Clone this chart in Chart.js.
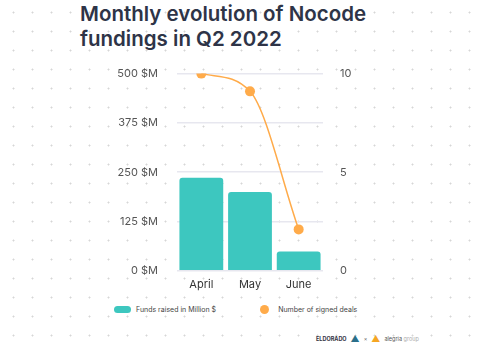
<!DOCTYPE html>
<html>
<head>
<meta charset="utf-8">
<script src="https://cdn.jsdelivr.net/npm/chart.js@4"></script>
<style>
  body { margin:0; width:485px; height:350px; overflow:hidden; background:#fff;
    background-image: radial-gradient(circle, #d6d6d6 0.8px, transparent 1.2px);
    background-size: 19px 19px; background-position: 4px 3px;
    font-family: Inter, "Noto Sans", sans-serif; position:relative; }
  #title { position:absolute; left:80px; top:2px; font-size:20.5px; font-weight:600; line-height:24.5px;
    color:#2e3447; }
  #wrap { position:absolute; left:0; top:48px; width:485px; height:250px; }
  #legend { position:absolute; top:305px; left:114px; font-size:7px; color:#444; display:flex; }
  .item { display:flex; align-items:center; }
  .logo { position:absolute; left:316px; top:333px; font-size:5.5px; color:#555; display:flex; align-items:center; gap:4px; }
</style>
</head>
<body>
<div id="title">Monthly evolution of Nocode<br>fundings in Q2 2022</div>
<div id="wrap"><canvas id="myChart" width="485" height="250"></canvas></div>
<div id="legend"></div>
<div class="logo"><b style="color:#334;">ELDORADO</b><span style="color:#2a6f8a;font-size:9px;">▲</span><span>×</span><span style="color:#f5a623;font-size:9px;">▲</span><span>alegria <span style="color:#aaa">group</span></span></div>
<script>
const labels = ['April', 'May', 'June'];
const funds = [236, 200, 49];
const deals = [10, 9.1, 2.1];
const fundTicks = ['0 $M', '125 $M', '250 $M', '375 $M', '500 $M'];

let ctx = document.getElementById("myChart");
const chart = new Chart(ctx, {
  data: {
    labels: labels,
    datasets: [
      {
        type: 'line',
        label: 'Number of signed deals',
        data: deals,
        yAxisID: 'y1',
        borderColor: '#ffab4a',
        backgroundColor: '#ffab4a',
        borderWidth: 1.5,
        pointRadius: 5,
        pointBorderWidth: 0,
        cubicInterpolationMode: 'monotone',
        order: 0
      },
      {
        type: 'bar',
        label: 'Funds raised in Million $',
        data: funds,
        yAxisID: 'y',
        backgroundColor: '#3dc7bf',
        borderRadius: {topLeft: 3, topRight: 3},
        borderSkipped: 'bottom',
        categoryPercentage: 0.9,
        barPercentage: 1,
        order: 1
      }
    ]
  },
  options: {
    responsive: false,
    animation: false,
    layout: { padding: { top: 2, bottom: 0 } },
    plugins: { legend: { display: false }, tooltip: { enabled: false } },
    scales: {
      x: {
        grid: { display: false, drawTicks: false },
        border: { display: false },
        ticks: { color: '#333', font: { size: 11, family: 'Inter' }, padding: 7 }
      },
      y: {
        position: 'left',
        min: 0, max: 500,
        afterFit: s => { s.width = 177; },
        grid: { color: '#e7e7ef', lineWidth: 1.5, drawTicks: false },
        border: { display: false },
        ticks: { stepSize: 125, padding: 19, color: '#555', font: { size: 11, family: 'Inter' },
          callback: (v, i) => fundTicks[i] }
      },
      y1: {
        position: 'right',
        min: 0, max: 10,
        afterFit: s => { s.width = 162; },
        grid: { display: false, drawTicks: false },
        border: { display: false },
        ticks: { stepSize: 5, padding: 17, color: '#555', font: { size: 11, family: 'Inter' } }
      }
    }
  }
});

// html legend built from the datasets
const leg = document.getElementById('legend');
[chart.data.datasets[1], chart.data.datasets[0]].forEach((d, i) => {
  const it = document.createElement('div');
  it.className = 'item';
  it.style.marginRight = i === 0 ? '44px' : '0';
  const sw = document.createElement('span');
  sw.style.cssText = i === 0
    ? 'width:17px;height:7px;border-radius:4px;margin-right:5px;background:' + d.backgroundColor
    : 'width:9px;height:9px;border-radius:50%;margin-right:9px;background:' + d.backgroundColor;
  it.appendChild(sw);
  it.appendChild(document.createTextNode(d.label));
  leg.appendChild(it);
});
</script>
</body>
</html>
